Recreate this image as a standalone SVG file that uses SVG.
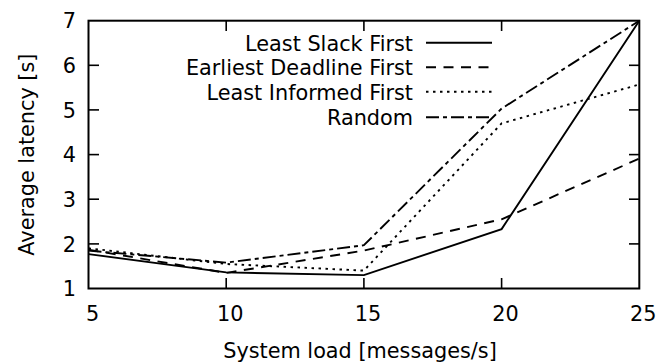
<svg xmlns="http://www.w3.org/2000/svg" width="656" height="363" viewBox="0 0 656 363">
  <style>
    text { font-family: "DejaVu Sans", "Liberation Sans", sans-serif; font-size: 20.8px; fill: #000; }
    .ytick { text-anchor: end; }
    .xtick { text-anchor: middle; }
    .key { text-anchor: end; }
    .border { fill: none; stroke: #000; stroke-width: 2; }
    .tick { stroke: #000; stroke-width: 1.6; }
    .series { fill: none; stroke: #000; stroke-width: 1.9; stroke-linejoin: miter; }
    .lsf { }
    .edf { stroke-dasharray: 10 7.5; }
    .lif { stroke-dasharray: 2.5 4.5; }
    .rnd { stroke-dasharray: 13 4 4 4; }
  </style>

  <rect width="656" height="363" fill="#fff"/>

  <!-- axes frame and tick marks -->
  <g id="axes">
    <g class="tick">
      <!-- left ticks -->
      <line x1="88.5" y1="65.3" x2="99" y2="65.3"/>
      <line x1="88.5" y1="109.9" x2="99" y2="109.9"/>
      <line x1="88.5" y1="154.6" x2="99" y2="154.6"/>
      <line x1="88.5" y1="199.2" x2="99" y2="199.2"/>
      <line x1="88.5" y1="243.9" x2="99" y2="243.9"/>
      <!-- right ticks -->
      <line x1="629" y1="65.3" x2="639.3" y2="65.3"/>
      <line x1="629" y1="109.9" x2="639.3" y2="109.9"/>
      <line x1="629" y1="154.6" x2="639.3" y2="154.6"/>
      <line x1="629" y1="199.2" x2="639.3" y2="199.2"/>
      <line x1="629" y1="243.9" x2="639.3" y2="243.9"/>
      <!-- bottom ticks -->
      <line x1="226.2" y1="278" x2="226.2" y2="288.5"/>
      <line x1="363.9" y1="278" x2="363.9" y2="288.5"/>
      <line x1="501.6" y1="278" x2="501.6" y2="288.5"/>
      <!-- top ticks -->
      <line x1="226.2" y1="20.7" x2="226.2" y2="31"/>
      <line x1="363.9" y1="20.7" x2="363.9" y2="31"/>
      <line x1="501.6" y1="20.7" x2="501.6" y2="31"/>
    </g>
    <rect class="border" x="88.5" y="20.7" width="550.8" height="267.8"/>

    <!-- tick labels -->
    <text class="ytick" x="76" y="28.3">7</text>
    <text class="ytick" x="76" y="72.9">6</text>
    <text class="ytick" x="76" y="117.5">5</text>
    <text class="ytick" x="76" y="162.2">4</text>
    <text class="ytick" x="76" y="206.8">3</text>
    <text class="ytick" x="76" y="251.5">2</text>
    <text class="ytick" x="76" y="296.1">1</text>

    <text class="xtick" x="92.5" y="320.7">5</text>
    <text class="xtick" x="230.2" y="320.7">10</text>
    <text class="xtick" x="367.9" y="320.7">15</text>
    <text class="xtick" x="505.6" y="320.7">20</text>
    <text class="xtick" x="643.3" y="320.7">25</text>

    <!-- axis titles -->
    <text x="360" y="357.5" text-anchor="middle">System load [messages/s]</text>
    <text transform="translate(34,154.6) rotate(-90)" text-anchor="middle">Average latency [s]</text>
  </g>

  <!-- data series -->
  <g id="connectors">
    <polyline class="series lsf" points="88.5,254.1 226.2,272.4 363.9,275.1 501.6,229.1 639.3,20.7"/>
    <polyline class="series edf" points="88.5,249.7 226.2,272.9 363.9,250.6 501.6,219.3 639.3,158.6"/>
    <polyline class="series lif" points="88.5,248.3 226.2,264.0 363.9,270.6 501.6,123.4 639.3,84.5"/>
    <polyline class="series rnd" points="88.5,250.6 226.2,262.6 363.9,245.2 501.6,108.6 639.3,20.7"/>
  </g>

  <!-- key -->
  <g id="legend">
    <g id="key-lsf">
      <text class="key" x="413" y="50.5">Least Slack First</text>
      <line class="series lsf" x1="426" y1="42.7" x2="492" y2="42.7"/>
    </g>
    <g id="key-edf">
      <text class="key" x="413" y="75.3">Earliest Deadline First</text>
      <line class="series edf" x1="426" y1="67.3" x2="492" y2="67.3"/>
    </g>
    <g id="key-lif">
      <text class="key" x="413" y="100.1">Least Informed First</text>
      <line class="series lif" x1="426" y1="91.8" x2="492" y2="91.8"/>
    </g>
    <g id="key-rnd">
      <text class="key" x="413" y="124.9">Random</text>
      <line class="series rnd" x1="426" y1="117.3" x2="492" y2="117.3"/>
    </g>
  </g>
</svg>
